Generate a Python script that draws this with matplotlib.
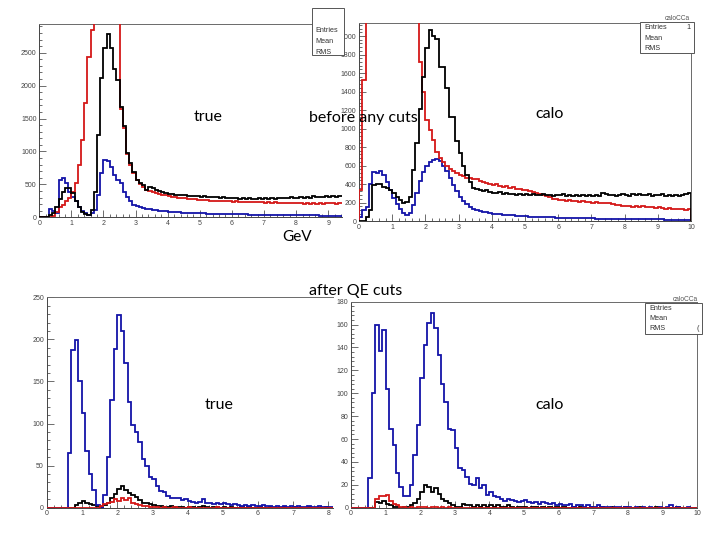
import numpy as np
import matplotlib
matplotlib.use("Agg")
import matplotlib.pyplot as plt
from matplotlib.ticker import MultipleLocator, FixedLocator

# ---------------- data (bin width 0.1 GeV) ----------------
bin_width = 0.1

# top-left: "true", before any cuts
black_tl = [0, 0, 0,
            40, 60, 150, 280, 380, 440, 440,
            370, 250, 150, 80, 45, 40, 110, 390, 1250, 2110,
            2570, 2790, 2570, 2245, 2090, 1680, 1380, 970, 820, 690,
            565, 515, 490, 415, 465, 440, 410, 400, 385, 365,
            355, 350, 345, 340, 345, 335, 330, 325, 330, 320,
            315, 320, 310, 315, 305, 310, 300, 305, 295, 300,
            290, 295, 285, 290, 280, 290, 285, 280, 290, 285,
            290, 280, 290, 285, 295, 290, 300, 295, 305, 300,
            295, 305, 300, 310, 300, 320, 310, 315, 305, 320,
            310, 325, 315, 330, 320]
red_tl = [0, 0, 0, 0,
          20, 80, 150, 190, 240, 300,
          390, 520, 795, 1175, 1730, 2440, 2850, 3400, 4000, 4500,
          4800, 4700, 4300, 3800, 3200, 1650, 1350, 960, 800, 670,
          560, 500, 460, 420, 400, 385, 370, 355, 345, 335,
          325, 315, 310, 300, 295, 290, 285, 280, 275, 270,
          265, 262, 258, 255, 250, 252, 245, 248, 240, 243,
          238, 242, 235, 238, 230, 235, 228, 232, 225, 230,
          222, 228, 220, 225, 218, 222, 215, 220, 212, 218,
          210, 215, 205, 212, 200, 210, 205, 215, 208, 212,
          210, 215, 208, 218, 212]
blue_tl = [0, 0, 0,
           120, 100, 60, 570, 600, 520, 390,
           310, 240, 160, 90, 60, 35, 60, 110, 340, 680,
           870, 860, 770, 645, 570, 520, 390, 310, 240, 190,
           165, 150, 140, 130, 120, 115, 108, 100, 95, 90,
           85, 82, 78, 75, 72, 70, 68, 65, 63, 62,
           60, 58, 57, 55, 54, 53, 52, 50, 49, 48,
           47, 46, 45, 44, 43, 42, 41, 40, 40, 39,
           38, 37, 37, 36, 35, 35, 34, 33, 33, 32,
           31, 31, 30, 30, 29, 28, 28, 27, 27, 26,
           26, 25, 25, 24, 24]

# top-right: "calo", before any cuts
black_tr = [0, 0, 45, 120, 390, 400, 395, 370, 360, 340,
            300, 260, 225, 200, 205, 260, 550, 840, 1210, 1560,
            1870, 2060, 2000, 1965, 1670, 1670, 1435, 1125, 1125, 860,
            735, 595, 500, 425, 360, 345, 335, 320, 330, 315,
            305, 300, 310, 295, 300, 290, 295, 285, 295, 285,
            290, 280, 290, 285, 280, 290, 280, 285, 275, 285,
            280, 290, 275, 285, 270, 280, 275, 285, 270, 280,
            275, 285, 270, 300, 290, 280, 285, 275, 280, 290,
            285, 275, 290, 280, 295, 285, 280, 290, 275, 285,
            280, 290, 275, 280, 270, 280, 275, 285, 290, 300]
red_tr = [335, 1520, 3000, 3600, 4200, 4600, 4900, 5000, 5000, 4900,
          4700, 4500, 4200, 3900, 3600, 3300, 2900, 2500, 1720, 1400,
          1090, 985, 880, 750, 680, 640, 590, 560, 540, 515,
          500, 490, 470, 465, 450, 455, 430, 425, 410, 405,
          390, 395, 380, 370, 375, 360, 365, 350, 345, 340,
          330, 325, 310, 300, 290, 280, 270, 255, 240, 235,
          225, 230, 220, 225, 215, 220, 210, 215, 205, 210,
          200, 205, 195, 200, 190, 195, 185, 175, 170, 165,
          160, 165, 155, 160, 155, 160, 150, 155, 150, 145,
          150, 140, 135, 140, 130, 135, 125, 130, 120, 125]
blue_tr = [45, 120, 155, 400, 530, 515, 540, 500, 420, 340,
           250, 180, 130, 90, 70, 90, 170, 300, 430, 530,
           600, 640, 660, 665, 650, 600, 540, 470, 390, 320,
           260, 215, 180, 150, 135, 120, 110, 100, 92, 85,
           80, 75, 72, 68, 65, 62, 60, 57, 55, 52,
           50, 48, 47, 45, 44, 42, 41, 40, 38, 37,
           36, 35, 34, 33, 32, 31, 30, 30, 29, 28,
           28, 27, 26, 26, 25, 25, 24, 24, 23, 23,
           22, 22, 21, 21, 20, 20, 19, 19, 18, 18,
           17, 17, 16, 16, 15, 15, 15, 14, 14, 14]

# bottom-left: "true", after QE cuts
blue_bl = [0, 0, 0, 0, 0, 0,
           65, 187, 199, 151, 113, 67, 40, 21, 3, 0,
           15, 60, 128, 188, 229, 210, 172, 126, 98, 90,
           78, 58, 50, 36, 34, 26, 20, 19, 14, 12, 12, 11, 9, 10,
           8, 7, 6, 7, 10, 6, 5, 4, 5, 4,
           5, 4, 3, 4, 3, 2, 3, 2, 3, 2,
           2, 3, 2, 2, 1, 2, 1, 2, 1, 2,
           1, 2, 1, 1, 2, 1, 1, 2, 1, 1,
           1, 1]
black_bl = [0, 0, 0, 0, 0, 0, 0, 0,
            3, 6, 8, 6, 4, 3, 2, 1, 3, 6,
            11, 16, 22, 26, 21, 18, 15, 13, 9, 6,
            5, 4, 3, 2, 2, 1, 1, 2, 1, 1,
            1, 0, 1, 1, 0, 1, 2, 1, 0, 1,
            1, 0, 1, 0, 1, 0, 0, 1, 0, 1,
            0, 0, 1, 0, 0, 1, 0, 0, 0, 1,
            0, 0, 1, 0, 0, 0, 1, 0, 0, 0,
            0, 1, 0, 0]
red_bl = [0, 0, 0, 0, 0, 0, 0, 0, 0, 0, 0, 0, 0, 0, 0,
          2, 4, 5, 7, 10, 8, 11, 9, 12, 5,
          4, 3, 2, 2, 1, 1, 1, 0, 1, 0,
          0, 1, 0, 0, 0, 1, 0, 0, 0, 0,
          0, 0, 0, 1, 0, 0, 0, 0, 0, 0,
          0, 0, 0, 0, 0, 0, 0, 0, 0, 0,
          0, 0, 0, 0, 0, 0, 0, 0, 0, 0,
          0, 0, 0, 0, 0, 0, 0]

# bottom-right: "calo", after QE cuts
blue_br = [0, 0, 0, 0, 0, 26, 100, 160, 137, 155,
           104, 69, 55, 30, 18, 10, 10, 20, 46, 72,
           113, 142, 161, 170, 157, 133, 108, 92, 69, 68,
           52, 35, 33, 27, 21, 20, 26, 17, 20, 11,
           14, 10, 9, 8, 6, 8, 7, 6, 5, 6,
           7, 5, 4, 5, 3, 5, 4, 3, 4, 2,
           3, 2, 2, 3, 1, 2, 2, 1, 2, 1,
           1, 2, 1, 1, 1, 0, 1, 1, 0, 1,
           1, 0, 1, 0, 1, 0, 1, 0, 0, 1,
           0, 1, 2, 0, 1, 0, 0, 1, 0, 0]
black_br = [0, 0, 0, 0, 0, 0, 0, 5, 4, 6,
            3, 2, 1, 1, 0, 1, 1, 2, 4, 8,
            14, 20, 18, 14, 17, 12, 8, 6, 4, 2,
            1, 1, 3, 2, 2, 1, 2, 1, 2, 1,
            2, 1, 2, 1, 1, 2, 1, 0, 1, 1,
            1, 0, 1, 1, 0, 1, 0, 1, 0, 1,
            0, 1, 0, 0, 1, 0, 1, 0, 0, 1,
            0, 0, 1, 0, 0, 1, 0, 0, 0, 1,
            0, 0, 0, 1, 0, 0, 0, 0, 1, 0,
            0, 0, 0, 0, 1, 0, 0, 0, 0, 0]
red_br = [0, 0, 0, 0, 0, 0, 0, 8, 10, 10,
          11, 6, 3, 2, 1, 1, 0, 1, 0, 1,
          1, 1, 0, 1, 1, 0, 1, 0, 1, 0,
          0, 0, 0, 0, 0, 0, 0, 0, 0, 0,
          0, 0, 0, 0, 0, 0, 0, 0, 0, 0,
          0, 0, 0, 0, 0, 0, 0, 0, 0, 0,
          0, 0, 0, 0, 0, 0, 0, 0, 0, 0,
          0, 0, 0, 0, 0, 0, 0, 0, 0, 0,
          0, 0, 0, 0, 0, 0, 0, 0, 0, 0,
          0, 0, 0, 0, 0, 0, 0, 0, 0, 0]

tr_ytick_labels = ["0", "200", "400", "600", "800", "1000", "1200",
                   "1400", "1600", "1800", "2000"]

# ---------------- figure ----------------
W, H = 720, 540
fig = plt.figure(figsize=(7.2, 5.4), dpi=100)
fig.patch.set_facecolor("white")

BLACK = "#000000"
RED = "#d41818"
BLUE = "#1414a8"
FRAME = "#6a6a6a"


def rect(x0, y0, x1, y1):
    return [x0 / W, 1 - y1 / H, (x1 - x0) / W, (y1 - y0) / H]


def style(ax, xlim, ylim, ymaj, ymin, xmaj=1, xmin=0.2):
    ax.set_xlim(*xlim)
    ax.set_ylim(*ylim)
    ax.xaxis.set_major_locator(MultipleLocator(xmaj))
    ax.xaxis.set_minor_locator(MultipleLocator(xmin))
    ax.yaxis.set_major_locator(MultipleLocator(ymaj))
    ax.yaxis.set_minor_locator(MultipleLocator(ymin))
    ax.tick_params(which="both", direction="in", top=False, right=False,
                   colors="#555555", labelcolor="#444444", labelsize=5,
                   width=0.6, pad=2)
    ax.tick_params(which="major", length=5)
    ax.tick_params(which="minor", length=2.5)
    for s in ax.spines.values():
        s.set_color(FRAME)
        s.set_linewidth(0.7)
    ax.spines["left"].set_color("#444444")
    ax.spines["bottom"].set_color("#444444")
    for lab in ax.get_xticklabels() + ax.get_yticklabels():
        lab.set_family("Liberation Sans")


def hist(ax, vals, color, z):
    v = np.asarray(vals, dtype=float)
    edges = np.arange(len(v) + 1) * bin_width
    ax.stairs(v, edges, color=color, linewidth=1.3, baseline=0, zorder=z)


# top-left
ax_tl = fig.add_axes(rect(39.3, 24.3, 342, 217.3))
hist(ax_tl, blue_tl, BLUE, 3)
hist(ax_tl, red_tl, RED, 4)
hist(ax_tl, black_tl, BLACK, 5)
style(ax_tl, (0, 9.43), (0, 2931), 500, 100)
ax_tl.spines["right"].set_visible(False)

# top-right
ax_tr = fig.add_axes(rect(359, 22.7, 691, 221))
hist(ax_tr, blue_tr, BLUE, 3)
hist(ax_tr, red_tr, RED, 4)
hist(ax_tr, black_tr, BLACK, 5)
style(ax_tr, (0, 10), (0, 2144), 200, 40)
ax_tr.yaxis.set_major_locator(FixedLocator(np.arange(len(tr_ytick_labels)) * 200))
ax_tr.set_yticklabels(tr_ytick_labels, family="Liberation Sans")

# bottom-left
ax_bl = fig.add_axes(rect(46.7, 297.3, 332.7, 507.7))
hist(ax_bl, black_bl, BLACK, 3)
hist(ax_bl, blue_bl, BLUE, 4)
hist(ax_bl, red_bl, RED, 5)
style(ax_bl, (0, 8.12), (0, 250), 50, 10)
ax_bl.spines["right"].set_visible(False)

# bottom-right
ax_br = fig.add_axes(rect(351, 301.7, 697, 507.7))
hist(ax_br, black_br, BLACK, 3)
hist(ax_br, blue_br, BLUE, 4)
hist(ax_br, red_br, RED, 5)
style(ax_br, (0, 10), (0, 180), 20, 4)


# ---------------- stats boxes ----------------
def stats_box(x0, y0, x1, y1, rows, title=None, right_vals=None):
    from matplotlib.patches import Rectangle
    r = Rectangle((x0 / W, 1 - y1 / H), (x1 - x0) / W, (y1 - y0) / H,
                  transform=fig.transFigure, facecolor="white",
                  edgecolor="#555555", linewidth=0.7, zorder=10)
    fig.add_artist(r)
    for txt, yy in rows:
        fig.text((x0 + 4) / W, 1 - yy / H, txt, fontsize=5.2, color="#333333",
                 family="Liberation Sans", va="center", ha="left", zorder=11)
    if right_vals:
        for txt, yy in right_vals:
            fig.text((x1 - 3) / W, 1 - yy / H, txt, fontsize=5.2, color="#333333",
                     family="Liberation Sans", va="center", ha="right", zorder=11)
    if title:
        fig.text((x1 - 4) / W, 1 - title[1] / H, title[0], fontsize=4.8,
                 color="#555555", family="Liberation Sans", va="center",
                 ha="right", zorder=11)


stats_box(311.7, 8, 344, 55, [("Entries", 30), ("Mean", 41.5), ("RMS", 52)])
stats_box(640, 21.7, 694, 53.3, [("Entries", 27.5), ("Mean", 38), ("RMS", 48.5)],
          title=("caloCCa", 18.5), right_vals=[("1", 27.5)])
stats_box(645, 303.3, 702, 334.3, [("Entries", 308.5), ("Mean", 318.5), ("RMS", 329)],
          title=("caloCCa", 299.5), right_vals=[("(", 329)])

# ---------------- slide text ----------------
def label(x, y, s, size=11.5):
    fig.text(x / W, 1 - y / H, s, fontsize=size, family="Lato", color="black",
             ha="center", va="center", zorder=20)


label(208, 117, "true")
label(363, 118, "before any cuts")
label(550, 114, "calo")
label(297, 237, "GeV", 11)
label(356, 291, "after QE cuts")
label(219, 405, "true")
label(550, 405, "calo")

fig.savefig("out.png", dpi=100, facecolor="white")
